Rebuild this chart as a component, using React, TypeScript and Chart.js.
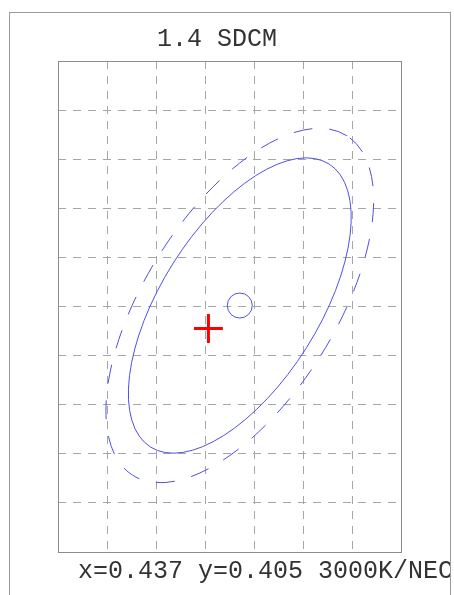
import React, { useEffect, useRef } from "react";
import { Chart, registerables } from "chart.js";

Chart.register(...registerables);

// ---- data ----
const titleText = "1.4 SDCM";
const footerText = "x=0.437 y=0.405 3000K/NEC";

// chromaticity window of the plot (x: 7 cells, y: 10 cells of 0.001)
const xRange = [0.43393, 0.44093];
const yRange = [0.40045, 0.41045];
const xGridTicks = [0.43493, 0.43593, 0.43693, 0.43793, 0.43893, 0.43993];
const yGridTicks = [0.40145, 0.40245, 0.40345, 0.40445, 0.40545, 0.40645, 0.40745, 0.40845, 0.40945];

// measured point (red cross)
const measuredX = [0.437];
const measuredY = [0.405];

// ellipse centre (small circle)
const centerX = [0.43764];
const centerY = [0.40547];

// ellipses: semi-axes in chromaticity units, tilt in degrees
const ellipseSemiMajor = [0.00341, 0.00409];
const ellipseSemiMinor = [0.00161, 0.00194];
const ellipseTilt = [57.7, 57.7];
const ellipseDashed = [false, true];

const BLUE = "rgb(80,80,228)";
const GRID = "#a6a6a6";

const decorPlugin = {
  id: "decor",
  beforeDraw(chart: any) {
    const { ctx, width, height } = chart;
    ctx.save();
    ctx.fillStyle = "#ffffff";
    ctx.fillRect(0, 0, width, height);
    ctx.strokeStyle = "#9a9a9a";
    ctx.lineWidth = 1;
    ctx.strokeRect(9.5, 12.5, 441, height + 20);
    ctx.restore();
  },
  beforeDatasetsDraw(chart: any) {
    const { ctx, chartArea: a, scales } = chart;
    const xs = scales.x;
    const ys = scales.y;
    ctx.save();
    ctx.strokeStyle = "#8c8c8c";
    ctx.lineWidth = 1;
    ctx.setLineDash([]);
    ctx.strokeRect(a.left + 0.5, a.top + 0.5, a.right - a.left, a.bottom - a.top);

    const kx = (xs.getPixelForValue(xRange[1]) - xs.getPixelForValue(xRange[0])) / (xRange[1] - xRange[0]);
    const ky = (ys.getPixelForValue(yRange[0]) - ys.getPixelForValue(yRange[1])) / (yRange[1] - yRange[0]);
    const cx = xs.getPixelForValue(centerX[0]);
    const cy = ys.getPixelForValue(centerY[0]);
    for (let i = 0; i < ellipseSemiMajor.length; i++) {
      ctx.save();
      ctx.translate(cx, cy);
      ctx.scale(kx, -ky);
      ctx.rotate((ellipseTilt[i] * Math.PI) / 180);
      ctx.beginPath();
      ctx.ellipse(0, 0, ellipseSemiMajor[i], ellipseSemiMinor[i], 0, 0, Math.PI * 2);
      ctx.restore();
      ctx.strokeStyle = BLUE;
      ctx.lineWidth = 1;
      ctx.setLineDash(ellipseDashed[i] ? [19, 17] : []);
      ctx.stroke();
    }
    ctx.restore();
  },
  afterDraw(chart: any) {
    const { ctx } = chart;
    ctx.save();
    ctx.beginPath();
    ctx.rect(0, 0, 450, chart.height);
    ctx.clip();
    ctx.fillStyle = "#333333";
    ctx.font = '25px "Liberation Mono", "DejaVu Sans Mono", monospace';
    ctx.textAlign = "left";
    ctx.textBaseline = "alphabetic";
    ctx.fillText(titleText, 157, 46);
    ctx.fillText(footerText, 78, 578);
    ctx.restore();
  },
};

export default function App() {
  const ref = useRef<HTMLCanvasElement | null>(null);

  useEffect(() => {
    if (!ref.current) return;
    const chart = new Chart(ref.current, {
      type: "scatter",
      data: {
        datasets: [
          {
            label: "centre",
            data: centerX.map((v, i) => ({ x: v, y: centerY[i] })),
            pointStyle: "circle",
            pointRadius: 12.5,
            borderColor: BLUE,
            backgroundColor: "rgba(0,0,0,0)",
            borderWidth: 1,
          },
          {
            label: "measured",
            data: measuredX.map((v, i) => ({ x: v, y: measuredY[i] })),
            pointStyle: "cross",
            pointRadius: 14.5,
            borderColor: "#ff0000",
            backgroundColor: "#ff0000",
            borderWidth: 3,
          },
        ],
      },
      options: {
        animation: false,
        responsive: false,
        events: [],
        layout: { padding: { left: 58, top: 61, right: 53, bottom: 43 } },
        plugins: {
          legend: { display: false },
          tooltip: { enabled: false },
          title: { display: false },
        },
        scales: {
          x: {
            type: "linear",
            min: xRange[0],
            max: xRange[1],
            afterBuildTicks: (s: any) => {
              s.ticks = xGridTicks.map((v) => ({ value: v }));
            },
            ticks: { display: false },
            grid: { color: GRID, lineWidth: 1, drawTicks: false },
            border: { display: false, dash: [8, 7] },
          },
          y: {
            type: "linear",
            min: yRange[0],
            max: yRange[1],
            afterBuildTicks: (s: any) => {
              s.ticks = yGridTicks.map((v) => ({ value: v }));
            },
            ticks: { display: false },
            grid: { color: GRID, lineWidth: 1, drawTicks: false },
            border: { display: false, dash: [8, 7] },
          },
        },
      },
      plugins: [decorPlugin],
    });
    return () => chart.destroy();
  }, []);

  return (
    <div style={{ position: "fixed", left: 0, top: 0, width: 454, height: 595 }}>
      <canvas ref={ref} width={454} height={595} style={{ display: "block" }} />
    </div>
  );
}
